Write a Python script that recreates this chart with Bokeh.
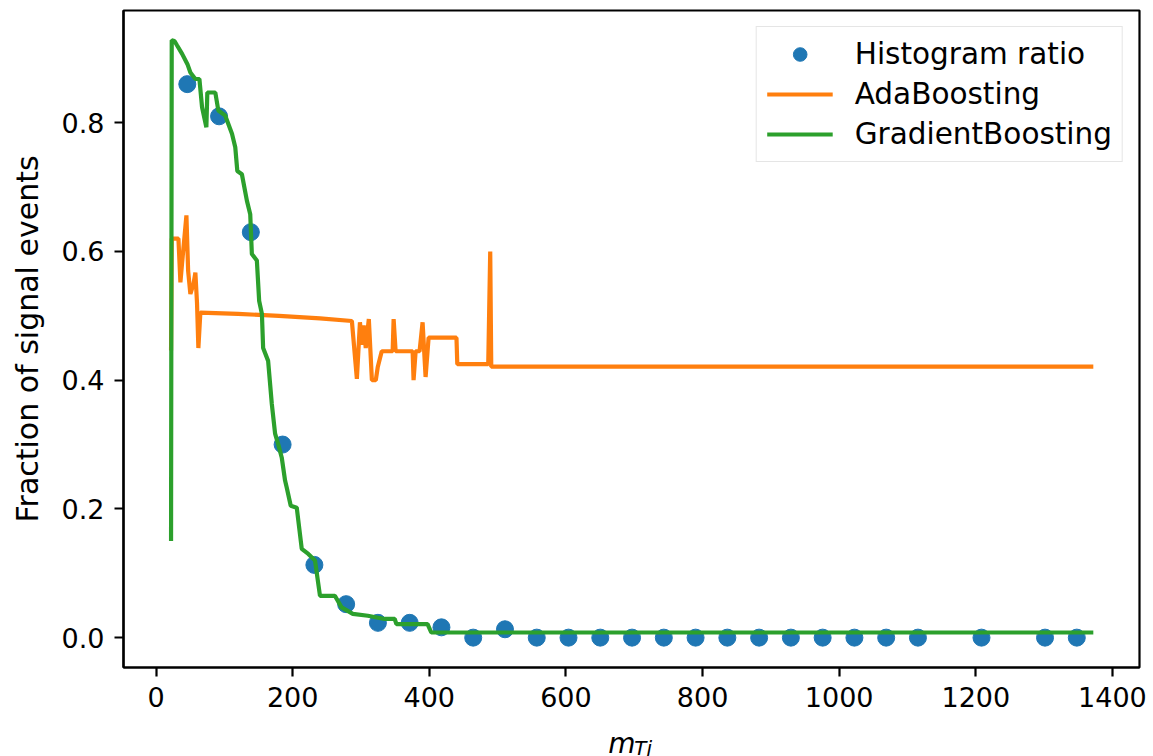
from bokeh.plotting import figure
from bokeh.models import Range1d, FixedTicker, Legend, LegendItem
from bokeh.layouts import column
from bokeh.core.properties import value
from bokeh.embed import file_html
from bokeh.resources import INLINE

# ---------------- data ----------------
hist_x = [45.8, 92.3, 138.8, 185.3, 231.8, 278.3, 324.8, 371.3, 417.8, 464.3,
          510.8, 557.3, 603.8, 650.3, 696.8, 743.3, 789.8, 836.3, 882.8, 929.3,
          975.8, 1022.3, 1068.8, 1115.3, 1208.3, 1301.3, 1347.8]
hist_y = [0.86, 0.81, 0.63, 0.30, 0.113, 0.052, 0.023, 0.023, 0.016, 0.0,
          0.013, 0.0, 0.0, 0.0, 0.0, 0.0, 0.0, 0.0, 0.0, 0.0,
          0.0, 0.0, 0.0, 0.0, 0.0, 0.0, 0.0]

ada_x = [22.0, 23.0, 28.4, 32.8, 35.7, 38.0, 44.5, 47.0, 50.3, 55.0, 57.6, 60.0,
         62.0, 64.9, 120.0, 180.0, 240.0, 286.7, 294.0, 298.5, 301.3, 304.0,
         307.0, 311.5, 316.0, 321.7, 324.5, 330.4, 331.8, 346.4, 347.8, 350.7,
         375.6, 377.0, 380.0, 385.8, 390.2, 394.6, 399.0, 439.8, 441.0, 486.3,
         489.2, 490.7, 1372.0]
ada_y = [0.446, 0.62, 0.62, 0.62, 0.552, 0.58, 0.656, 0.57, 0.534, 0.55, 0.567, 0.52,
         0.45, 0.505, 0.503, 0.500, 0.496, 0.492, 0.402, 0.49, 0.455, 0.485,
         0.45, 0.495, 0.40, 0.40, 0.42, 0.445, 0.445, 0.445, 0.495, 0.445,
         0.445, 0.40, 0.445, 0.445, 0.49, 0.405, 0.466, 0.466, 0.425, 0.425,
         0.60, 0.421, 0.421]

gb_x = [22.0, 23.0, 27.0, 30.9, 38.2, 46.0, 50.3, 57.6, 63.5, 67.4, 73.7, 75.1,
        86.8, 91.2, 101.4, 111.2, 116.0, 119.0, 125.7, 133.0, 137.9, 140.3,
        147.6, 151.0, 155.0, 156.8, 164.1, 169.5, 174.3, 178.7, 184.0, 188.9,
        191.4, 197.2, 206.0, 213.3, 222.9, 232.7, 240.0, 261.8, 271.6, 288.1,
        310.0, 334.8, 349.4, 351.9, 397.5, 402.9, 1372.0]
gb_y = [0.15, 0.928, 0.927, 0.92, 0.907, 0.891, 0.878, 0.868, 0.868, 0.824, 0.793, 0.847,
        0.847, 0.819, 0.811, 0.783, 0.762, 0.725, 0.72, 0.679, 0.658, 0.596,
        0.586, 0.523, 0.503, 0.45, 0.43, 0.363, 0.317, 0.301, 0.28, 0.244,
        0.233, 0.205, 0.202, 0.138, 0.130, 0.120, 0.065, 0.065, 0.047, 0.037,
        0.034, 0.029, 0.029, 0.021, 0.021, 0.008, 0.008]

x_ticks = [0, 200, 400, 600, 800, 1000, 1200, 1400]
y_ticks = [0.0, 0.2, 0.4, 0.6, 0.8]
y_tick_labels = ["0.0", "0.2", "0.4", "0.6", "0.8"]

series_names = ["Histogram ratio", "AdaBoosting", "GradientBoosting"]
x_label_main = "m"
x_label_sub = "Tj"
y_label = "Fraction of signal events"

# ---------------- main figure ----------------
FONT = "DejaVu Sans"
xr = Range1d(-47.6, 1439.6)
p = figure(width=1153, height=718, output_backend="svg", toolbar_location=None,
           x_range=xr, y_range=Range1d(-0.0464, 0.9744),
           min_border_left=123, min_border_right=14, min_border_top=10,
           min_border_bottom=51)
p.background_fill_color = "white"
p.border_fill_color = "white"
p.xgrid.visible = False
p.ygrid.visible = False
p.outline_line_color = "black"
p.outline_line_width = 2.2

r_hist = p.scatter(hist_x, hist_y, size=17, color="#1f77b4", line_color="#1f77b4")
r_ada = p.line(ada_x, ada_y, line_width=4.2, color="#ff7f0e")
r_gb = p.line(gb_x, gb_y, line_width=4.2, color="#2ca02c")

for ax in (p.xaxis[0], p.yaxis[0]):
    ax.axis_line_width = 2.2
    ax.axis_line_color = "black"
    ax.major_tick_line_width = 2.2
    ax.major_tick_line_color = "black"
    ax.major_tick_out = 9
    ax.major_tick_in = 0
    ax.minor_tick_line_color = None
    ax.major_label_text_font = FONT
    ax.major_label_text_font_size = "27px"
    ax.major_label_text_color = "black"
    ax.major_label_standoff = 10
    ax.axis_label_text_font = FONT
    ax.axis_label_text_font_size = "30px"
    ax.axis_label_text_font_style = "normal"
    ax.axis_label_text_color = "black"

p.xaxis[0].ticker = FixedTicker(ticks=x_ticks)
p.yaxis[0].ticker = FixedTicker(ticks=y_ticks)
p.yaxis[0].major_label_overrides = {t: s for t, s in zip(y_ticks, y_tick_labels)}
p.yaxis[0].axis_label = y_label
p.yaxis[0].axis_label_standoff = 14

legend = Legend(items=[LegendItem(label=series_names[0], renderers=[r_hist]),
                       LegendItem(label=series_names[1], renderers=[r_ada]),
                       LegendItem(label=series_names[2], renderers=[r_gb])],
                location="top_right")
legend.margin = 16
legend.padding = 10
legend.spacing = 6
legend.glyph_width = 66
legend.glyph_height = 34
legend.label_height = 34
legend.label_standoff = 22
legend.label_text_font = FONT
legend.label_text_font_size = "29.5px"
legend.label_text_color = "black"
legend.border_line_color = "#cccccc"
legend.border_line_width = 1.5
legend.background_fill_color = "white"
legend.background_fill_alpha = 0.8
p.add_layout(legend)

# ---------------- x-axis label strip (real text, italic with subscript) ----------------
# shares the x range of the main plot, so the label sits centred under the axis
q = figure(width=1153, height=38, frame_height=38, output_backend="svg",
           toolbar_location=None, x_axis_location=None, y_axis_location=None,
           x_range=xr, y_range=Range1d(38, 0),
           min_border_left=123, min_border_right=14, min_border_top=0, min_border_bottom=0)
q.xgrid.visible = False
q.ygrid.visible = False
q.outline_line_color = None
q.background_fill_color = "white"
q.border_fill_color = "white"
q.text(x=[662], y=[25], text=[x_label_main], text_font=value(FONT),
       text_font_style="italic", text_font_size="28px", text_baseline="alphabetic",
       text_color="black")
q.text(x=[700], y=[29], text=[x_label_sub], text_font=value(FONT),
       text_font_style="italic", text_font_size="20px", text_baseline="alphabetic",
       text_color="black")

layout = column(p, q, spacing=0)
open("out.html", "w").write(file_html(layout, INLINE))
